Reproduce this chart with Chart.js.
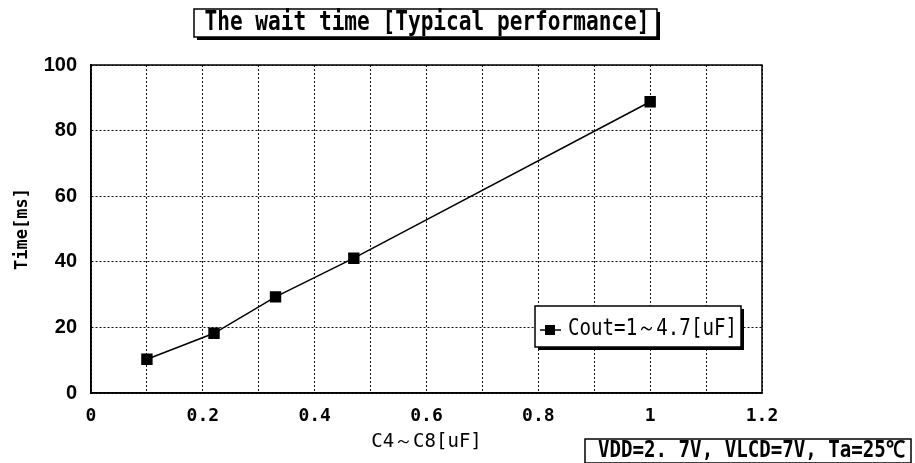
<!DOCTYPE html>
<html>
<head>
<meta charset="utf-8">
<script src="https://cdn.jsdelivr.net/npm/chart.js@4.4.1/dist/chart.umd.min.js"></script>
<style>
  html, body { margin: 0; padding: 0; background: #fff; }
  #wrap { width: 915px; height: 463px; }
</style>
</head>
<body>
<div id="wrap"><canvas id="chartWait"></canvas></div>
<script>
// values
const capValues = [0.1, 0.22, 0.33, 0.47, 1.0];      // C4~C8 [uF]
const waitTimes = [10.3, 18.2, 29.3, 41.1, 88.8];    // Time [ms]
const seriesLabel = 'Cout=1～4.7[uF]';
const chartTitle = 'The wait time [Typical performance]';
const conditionNote = 'VDD=2. 7V, VLCD=7V, Ta=25℃';

const MONO = '"DejaVu Sans Mono", "Liberation Mono", monospace';

// draw text squeezed horizontally to a given width (the original uses a narrow gothic font)
function squeezeText(ctx, text, x, y, font, targetW, align) {
  ctx.save();
  ctx.font = font;
  const w = ctx.measureText(text).width;
  const s = targetW / w;
  ctx.textBaseline = 'middle';
  ctx.textAlign = 'left';
  let startX = x;
  if (align === 'center') startX = x - targetW / 2;
  ctx.translate(startX, y);
  ctx.scale(s, 1);
  ctx.fillStyle = '#000';
  ctx.fillText(text, 0, 0);
  ctx.restore();
}

function shadowBox(ctx, x, y, w, h, shadow) {
  ctx.save();
  if (shadow) {
    ctx.fillStyle = '#000';
    ctx.fillRect(x + shadow, y + shadow, w, h);
  }
  ctx.fillStyle = '#fff';
  ctx.fillRect(x, y, w, h);
  ctx.strokeStyle = '#000';
  ctx.lineWidth = 1.5;
  ctx.strokeRect(x, y, w, h);
  ctx.restore();
}

const boxesPlugin = {
  id: 'boxes',
  beforeDatasetsDraw(chart) {
    // closed frame round the plot area
    const a = chart.chartArea;
    const ctx = chart.ctx;
    ctx.save();
    ctx.strokeStyle = '#000';
    ctx.lineWidth = 1.5;
    ctx.strokeRect(a.left, a.top, a.right - a.left, a.bottom - a.top);
    ctx.restore();
  },
  afterDraw(chart) {
    const ctx = chart.ctx;
    // title box
    shadowBox(ctx, 194, 9, 463, 28, 3);
    squeezeText(ctx, chartTitle, 427, 23, 'bold 26px ' + MONO, 445, 'center');

    // condition note, lower right
    shadowBox(ctx, 585, 439, 326, 24, 0);
    squeezeText(ctx, conditionNote, 598, 451, 'bold 23px ' + MONO, 307, 'left');

    // legend inside plot
    const ds = chart.data.datasets[0];
    shadowBox(ctx, 535, 306, 206, 41, 3);
    ctx.save();
    ctx.strokeStyle = '#000';
    ctx.lineWidth = 1.5;
    ctx.beginPath();
    ctx.moveTo(540, 330);
    ctx.lineTo(561, 330);
    ctx.stroke();
    ctx.fillStyle = '#000';
    ctx.fillRect(545, 325, 10, 10);
    ctx.restore();
    squeezeText(ctx, ds.label, 568, 329, '23px ' + MONO, 169, 'left');
  }
};

new Chart(document.getElementById('chartWait'), {
  type: 'scatter',
  data: {
    datasets: [{
      label: seriesLabel,
      data: capValues.map((c, i) => ({ x: c, y: waitTimes[i] })),
      showLine: true,
      borderColor: '#000',
      backgroundColor: '#000',
      borderWidth: 1.5,
      pointStyle: 'rect',
      pointRadius: 7,
      pointHoverRadius: 7,
    }],
  },
  options: {
    responsive: true,
    maintainAspectRatio: false,
    animation: false,
    layout: { padding: { top: 65, right: 153, left: 0, bottom: 0 } },
    plugins: {
      legend: { display: false },
      tooltip: { enabled: false },
    },
    scales: {
      x: {
        type: 'linear',
        min: 0,
        max: 1.2,
        afterFit: (scale) => { scale.height = 70; },
        ticks: {
          stepSize: 0.1,
          autoSkip: false,
          maxRotation: 0,
          padding: 13,
          color: '#000',
          font: { family: MONO, size: 18, weight: 'bold' },
          callback: (v) => (Math.round(v * 10) % 2 === 0 ? String(Math.round(v * 10) / 10) : ''),
        },
        grid: { color: '#111', lineWidth: 1, drawTicks: false },
        border: { color: '#000', width: 1.5, dash: [2, 2] },
        title: {
          display: true,
          text: 'C4～C8[uF]',
          color: '#000',
          font: { family: MONO, size: 19 },
          padding: { top: 10, bottom: 10 },
        },
      },
      y: {
        min: 0,
        max: 100,
        afterFit: (scale) => { scale.width = 91; },
        ticks: {
          stepSize: 20,
          padding: 14,
          color: '#000',
          font: { family: '"Liberation Sans", Arial, sans-serif', size: 20, weight: 'bold' },
        },
        grid: { color: '#111', lineWidth: 1, drawTicks: false },
        border: { color: '#000', width: 1.5, dash: [2, 2] },
        title: {
          display: true,
          text: 'Time[ms]',
          color: '#000',
          font: { family: MONO, size: 17, weight: 'bold' },
          padding: { top: 12, bottom: 12 },
        },
      },
    },
  },
  plugins: [boxesPlugin],
});
</script>
</body>
</html>
